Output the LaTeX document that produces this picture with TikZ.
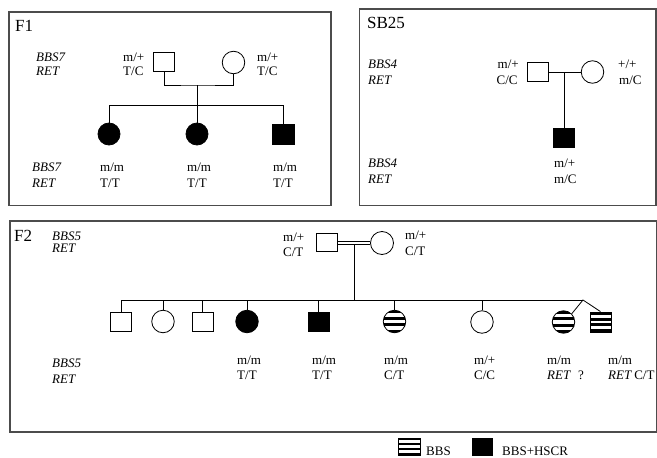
\documentclass[tikz,border=0pt]{standalone}
\usepackage{fontspec}
\setmainfont{Liberation Serif}
\usetikzlibrary{calc}
\tikzset{
  frame/.style={draw=black!70, line width=1.1pt},
  ln/.style={draw=black, line width=0.8pt},
  male/.style={draw=black, line width=0.8pt, rectangle, minimum width=21pt, minimum height=19pt, inner sep=0pt},
  female/.style={draw=black, line width=0.8pt, circle, minimum size=22.5pt, inner sep=0pt},
  aff/.style={fill=black},
  stripes/.style={path picture={
    \foreach \i in {0,2,4,6}
      \fill[black] ($(path picture bounding box.north west)!{\i/7}!(path picture bounding box.south west)$)
        rectangle ($(path picture bounding box.north east)!{(\i+1)/7}!(path picture bounding box.south east)$);
  }},
  lbl/.style={anchor=base west, inner sep=0pt, font=\fontsize{13}{15}\selectfont},
  gene/.style={lbl, font=\fontsize{13}{15}\selectfont\itshape},
  title/.style={anchor=base west, inner sep=0pt, font=\fontsize{17}{19}\selectfont},
}
\begin{document}
\begin{tikzpicture}[x=1pt,y=-1pt]
\useasboundingbox (0,0) rectangle (657,458);
% frames
\draw[frame] (9,12) rectangle (331,205.5);
\draw[frame] (359.5,9) rectangle (656,205.5);
\draw[frame] (10,221) rectangle (657,432);

% ---------------- F1
\node[title] (f1t) at (15,31) {F1};
\node[gene] (f1g1) at (36,61) {BBS7};
\node[gene] (f1g2) at (36,75.5) {RET};
\node[lbl] (f1a1) at (123,61) {m/+};
\node[lbl] (f1a2) at (123,75.5) {T/C};
\node[lbl] (f1b1) at (257,61) {m/+};
\node[lbl] (f1b2) at (257,75.5) {T/C};
\node[male] (f1fa) at (164,62) {};
\node[female] (f1mo) at (233.5,62.5) {};
\coordinate (f1m) at (197,85);
\coordinate (f1s) at (197,105);
\node[female,aff,minimum width=22pt,minimum height=20pt] (f1c1) at (109,134) {};
\node[female,aff,minimum width=22pt,minimum height=20pt] (f1c2) at (197,134) {};
\node[male,aff,minimum width=22pt,minimum height=20pt] (f1c3) at (283.5,134) {};
\draw[ln] (f1fa.south) |- (f1m) -| (f1mo.south);
\draw[ln] (f1m) -- (f1s);
\draw[ln] (f1c1.north) -- (f1c1.north |- f1s) -- (f1c3.north |- f1s) -- (f1c3.north);
\draw[ln] (f1s) -- (f1c2.north);
\node[gene] (f1g3) at (32,171.5) {BBS7};
\node[gene] (f1g4) at (32,187) {RET};
\node[lbl] (f1c1a) at (100,171.5) {m/m};
\node[lbl] (f1c1b) at (100,187) {T/T};
\node[lbl] (f1c2a) at (187,171.5) {m/m};
\node[lbl] (f1c2b) at (187,187) {T/T};
\node[lbl] (f1c3a) at (273,171.5) {m/m};
\node[lbl] (f1c3b) at (273,187) {T/T};

% ---------------- SB25
\node[title] (sbt) at (367,28) {SB25};
\node[gene] (sbg1) at (368,68) {BBS4};
\node[gene] (sbg2) at (368,84) {RET};
\node[lbl] (sba1) at (497.5,68) {m/+};
\node[lbl] (sba2) at (496.5,84) {C/C};
\node[lbl] (sbb1) at (618,68) {+/+};
\node[lbl] (sbb2) at (619,84) {m/C};
\node[male] (sbfa) at (537.5,72) {};
\node[female] (sbmo) at (592.5,72) {};
\coordinate (sbm) at (564,72);
\node[male,aff] (sbc) at (564,137.5) {};
\draw[ln] (sbfa.east) -- (sbmo.west);
\draw[ln] (sbm) -- (sbc.north);
\node[gene] (sbg3) at (368,167) {BBS4};
\node[gene] (sbg4) at (368,183) {RET};
\node[lbl] (sbc1) at (554,167.5) {m/+};
\node[lbl] (sbc2) at (554,183) {m/C};

% ---------------- F2
\node[title] (f2t) at (14,241.5) {F2};
\node[gene] (f2g1) at (52,240) {BBS5};
\node[gene] (f2g2) at (52,252.5) {RET};
\node[lbl] (f2a1) at (283,241.5) {m/+};
\node[lbl] (f2a2) at (283,256.5) {C/T};
\node[lbl] (f2b1) at (405,239.5) {m/+};
\node[lbl] (f2b2) at (405,255) {C/T};
\node[male,minimum height=18pt] (f2fa) at (327,242.5) {};
\node[female,minimum size=23pt] (f2mo) at (382,243) {};
\coordinate (f2d1) at (337,241);
\coordinate (f2d2) at (337,244.5);
\draw[ln] (f2d1) -- (f2d1 -| f2mo.west);
\draw[ln] (f2d2) -- (f2d2 -| f2mo.west);
\coordinate (f2m) at (354,244.5);
\coordinate (f2s) at (354,300);
\coordinate (f2tw) at (583,300);
\node[male] (c1) at (121,321.5) {};
\node[female] (c2) at (163,321.5) {};
\node[male] (c3) at (202.5,321.5) {};
\node[female,aff] (c4) at (247,321.5) {};
\node[male,aff] (c5) at (318.5,321.5) {};
\node[female,stripes] (c6) at (394.5,321.5) {};
\node[female] (c7) at (482,322) {};
\node[female,stripes] (c8) at (563.5,322) {};
\node[male,stripes,minimum width=21pt,minimum height=20pt] (c9) at (600.5,322) {};
\draw[ln] (f2m) -- (f2s);
\draw[ln] (c1.north) -- (c1.north |- f2s) -- (f2tw);
\foreach \c in {c2,c3,c4,c5,c6,c7}
  \draw[ln] (\c.north) -- (\c.north |- f2s);
\draw[ln] (c8.north east) -- (f2tw) -- (c9.north);
\node[gene] (f2g3) at (52,367) {BBS5};
\node[gene] (f2g4) at (52,383) {RET};
\node[lbl] (l4a) at (237,364) {m/m};
\node[lbl] (l4b) at (237,379.5) {T/T};
\node[lbl] (l5a) at (312,364) {m/m};
\node[lbl] (l5b) at (312,379.5) {T/T};
\node[lbl] (l6a) at (384,364) {m/m};
\node[lbl] (l6b) at (384,379.5) {C/T};
\node[lbl] (l7a) at (474,364) {m/+};
\node[lbl] (l7b) at (474,379.5) {C/C};
\node[lbl] (l8a) at (547,364) {m/m};
\node[gene] (l8b) at (547,379.5) {RET};
\node[lbl] (l8q) at (578,379.5) {?};
\node[lbl] (l9a) at (608,364) {m/m};
\node[lbl] (l9b) at (608,379.5) {\textit{RET}\,C/T};

% ---------------- legend
\node[male,stripes,minimum width=22pt,minimum height=17pt] (lg1) at (409,446.5) {};
\node[lbl] (lg1t) at (426,455) {BBS};
\node[male,aff,minimum width=20pt,minimum height=17pt] (lg2) at (482,446.5) {};
\node[lbl] (lg2t) at (502,455) {BBS+HSCR};
\end{tikzpicture}
\end{document}
